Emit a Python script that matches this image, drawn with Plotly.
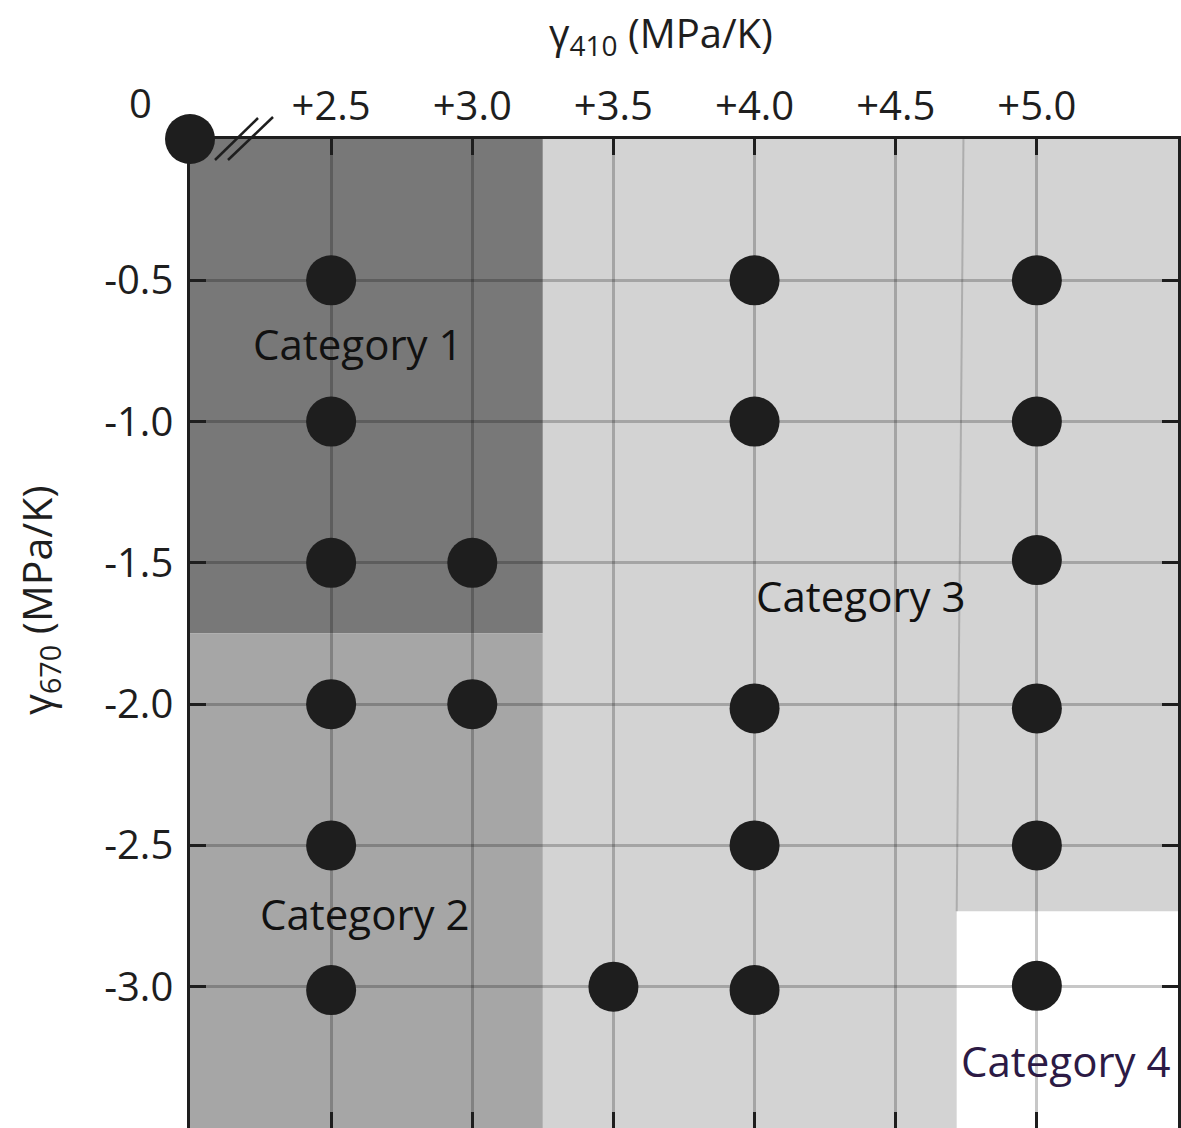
import plotly.graph_objects as go

# ---- data ----
g410 = [0.0,
        2.5, 4.0, 5.0,
        2.5, 4.0, 5.0,
        2.5, 3.0, 5.0,
        2.5, 3.0, 4.0, 5.0,
        2.5, 4.0, 5.0,
        2.5, 3.5, 4.0, 5.0]
g670 = [0.0,
        -0.5, -0.5, -0.5,
        -1.0, -1.0, -1.0,
        -1.5, -1.5, -1.49,
        -2.0, -2.0, -2.015, -2.015,
        -2.5, -2.5, -2.5,
        -3.012, -3.0, -3.012, -2.997]

x_tickvals = [2.5, 3.0, 3.5, 4.0, 4.5, 5.0]
x_ticktext = ["+2.5", "+3.0", "+3.5", "+4.0", "+4.5", "+5.0"]
y_tickvals = [-0.5, -1.0, -1.5, -2.0, -2.5, -3.0]
y_ticktext = ["-0.5", "-1.0", "-1.5", "-2.0", "-2.5", "-3.0"]

# axis break: x = 0 is drawn at the left edge of the (broken) axis
x_range = [2.0, 5.5]
y_range = [-3.5, 0.0]
BREAK_POS = 2.0

# category regions (x0, x1, y0, y1, colour)
region_names = ["Category 1", "Category 2", "Category 3", "Category 4"]
region_x0 = [2.0, 2.0, 3.25, 4.716]
region_x1 = [3.25, 3.25, 5.5, 5.5]
region_y0 = [-1.75, -3.5, -3.5, -3.5]
region_y1 = [0.0, -1.75, 0.0, -2.733]
region_col = ["#787878", "#a6a6a6", "#d3d3d3", "#ffffff"]

# category 3 / 4 faint boundary
boundary_x = [4.74, 4.716]
boundary_y = [0.0, -2.733]

label_x = [2.595, 2.62, 4.376, 5.104]
label_y = [-0.723, -2.741, -1.615, -3.262]
label_col = ["#111111", "#111111", "#111111", "#2c1a45"]

FONT = "Open Sans"
INK = "#1e1e1e"

W, H = 1181, 1128
ML, MR, MT, MB = 190, 3, 139, 0
pw, ph = W - ML - MR, H - MT - MB


def px2paper(px, py):
    return (px - ML) / pw, 1 - (py - MT) / ph


x_plot = [BREAK_POS if v == 0 else v for v in g410]

fig = go.Figure()
fig.add_trace(go.Scatter(
    x=x_plot, y=g670, mode="markers",
    marker=dict(size=50, color=INK, line=dict(width=0)),
    cliponaxis=False, showlegend=False, hoverinfo="skip"))

shapes = []
for x0, x1, y0, y1, c in zip(region_x0, region_x1, region_y0, region_y1, region_col):
    shapes.append(dict(type="rect", xref="x", yref="y", x0=x0, x1=x1, y0=y0, y1=y1,
                       fillcolor=c, line=dict(width=0), layer="below"))
shapes.append(dict(type="line", xref="x", yref="y",
                   x0=boundary_x[0], x1=boundary_x[1], y0=boundary_y[0], y1=boundary_y[1],
                   line=dict(color="rgba(0,0,0,0.18)", width=2), layer="below"))
# axis-break marks (pixel geometry of the decoration)
for (ax, ay), (bx, by) in [((215, 160), (258, 118)), ((228, 160), (273, 117))]:
    p0 = px2paper(ax, ay)
    p1 = px2paper(bx, by)
    shapes.append(dict(type="line", xref="paper", yref="paper",
                       x0=p0[0], y0=p0[1], x1=p1[0], y1=p1[1],
                       line=dict(color=INK, width=2.5), layer="above"))

annotations = []
for name, lx, ly, lc in zip(region_names, label_x, label_y, label_col):
    annotations.append(dict(x=lx, y=ly, xref="x", yref="y", text=name, showarrow=False,
                            font=dict(family=FONT, size=42, color=lc),
                            xanchor="center", yanchor="middle"))
annotations.append(dict(x=BREAK_POS, y=1, xref="x", yref="paper", text="0", showarrow=False,
                        xshift=-50, yshift=37, xanchor="center", yanchor="middle",
                        font=dict(family=FONT, size=40, color=INK)))
tx, ty = px2paper(661, 34)
annotations.append(dict(x=tx, y=ty, xref="paper", yref="paper", text="γ<sub>410</sub> (MPa/K)",
                        showarrow=False, xanchor="center", yanchor="middle",
                        font=dict(family=FONT, size=40, color=INK)))
tx, ty = px2paper(38, 601)
annotations.append(dict(x=tx, y=ty, xref="paper", yref="paper", text="γ<sub>670</sub> (MPa/K)",
                        showarrow=False, xanchor="center", yanchor="middle", textangle=-90,
                        font=dict(family=FONT, size=41, color=INK)))

axis_common = dict(ticks="inside", ticklen=16, tickwidth=2.5, tickcolor=INK,
                   showline=True, linecolor=INK, linewidth=2.5, mirror="ticks",
                   showgrid=True, gridcolor="rgba(0,0,0,0.22)", gridwidth=2.5,
                   zeroline=False, tickfont=dict(family=FONT, size=40, color=INK),
                   fixedrange=True)

fig.update_layout(
    width=W, height=H,
    margin=dict(l=ML, r=MR, t=MT, b=MB, autoexpand=False),
    paper_bgcolor="white", plot_bgcolor="white",
    xaxis=dict(range=x_range, side="top", tickvals=x_tickvals, ticktext=x_ticktext,
               ticklabelstandoff=0, **axis_common),
    yaxis=dict(range=y_range, tickvals=y_tickvals, ticktext=y_ticktext,
               ticklabelstandoff=6, **axis_common),
    shapes=shapes, annotations=annotations, showlegend=False,
)

fig.write_html("out.html", config={"displayModeBar": False},
               post_script="document.body.style.margin='0px';")
